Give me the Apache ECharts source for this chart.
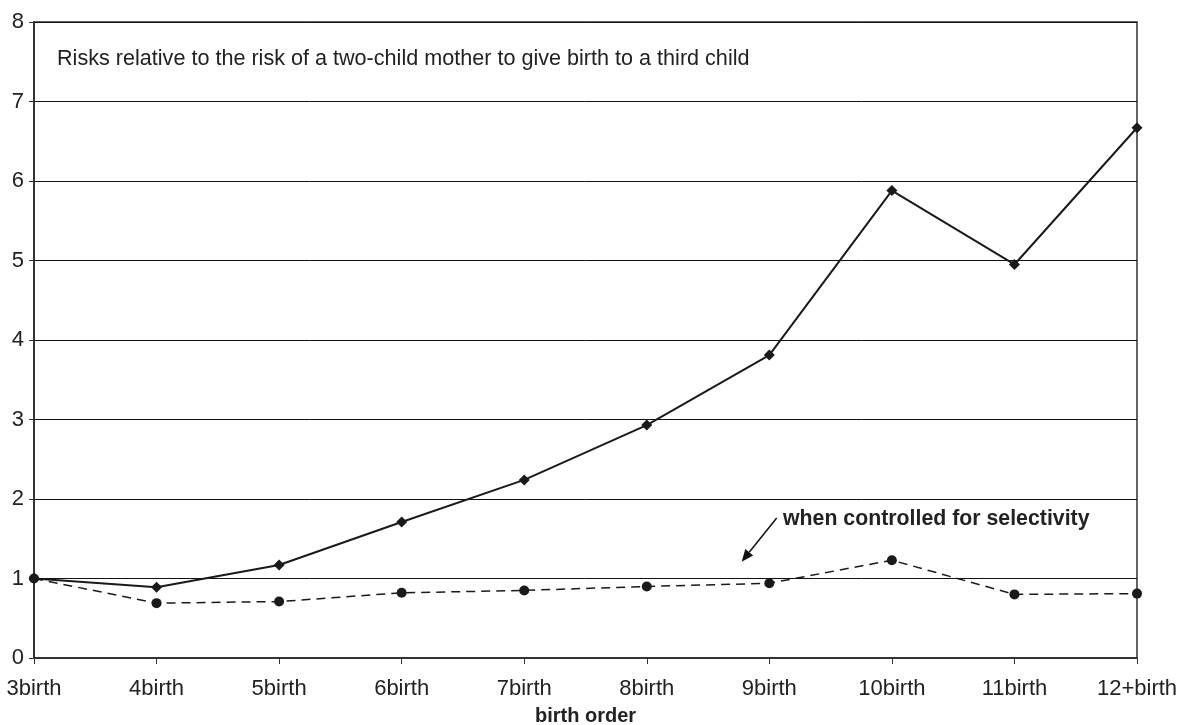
<!DOCTYPE html>
<html>
<head>
<meta charset="utf-8">
<script src="https://cdn.jsdelivr.net/npm/echarts@6/dist/echarts.min.js"></script>
<style>html,body{margin:0;padding:0;background:#fff}#c{width:1181px;height:725px}</style>
</head>
<body>
<div id="c"></div>
<script>
const categories = ['3birth','4birth','5birth','6birth','7birth','8birth','9birth','10birth','11birth','12+birth'];
const rawRisk = [1.0, 0.89, 1.17, 1.71, 2.24, 2.93, 3.81, 5.88, 4.95, 6.67];
const controlledRisk = [1.0, 0.69, 0.71, 0.82, 0.85, 0.90, 0.94, 1.23, 0.80, 0.81];
const yTicks = [0,1,2,3,4,5,6,7,8];
const noteText = 'Risks relative to the risk of a two-child mother to give birth to a third child';
const arrowText = 'when controlled for selectivity';
const xName = 'birth order';

const chart = echarts.init(document.getElementById('c'), null, {renderer:'canvas'});
const FONT = '"Liberation Sans", Arial, sans-serif';
const dark = '#222';
chart.setOption({
  animation: false,
  backgroundColor: '#fff',
  grid: {left: 34, right: 44, top: 22, bottom: 67, show: true, borderColor: '#333', borderWidth: 1.5,
         backgroundColor: 'transparent', containLabel: false, outerBoundsMode: 'none'},
  xAxis: {
    type: 'category', data: categories, boundaryGap: false,
    name: xName, nameLocation: 'middle', nameGap: 48,
    nameTextStyle: {fontFamily: FONT, fontWeight: 'bold', fontSize: 20, color: dark},
    axisLine: {lineStyle: {color: '#333', width: 2}},
    axisTick: {show: true, length: 6, lineStyle: {color: '#333', width: 1}},
    axisLabel: {fontFamily: FONT, fontSize: 22, color: dark, margin: 20},
    splitLine: {show: false}
  },
  yAxis: {
    type: 'value', min: 0, max: 8, interval: 1,
    axisLine: {show: true, lineStyle: {color: '#333', width: 2}},
    axisTick: {show: true, length: 5, lineStyle: {color: '#333', width: 1}},
    axisLabel: {fontFamily: FONT, fontSize: 22, color: dark, margin: 10},
    splitLine: {show: true, lineStyle: {color: '#111', width: 1}}
  },
  graphic: [
    {type: 'text', left: 57, top: 48, style: {text: noteText, font: '21.6px ' + FONT, fill: dark}},
    {type: 'text', left: 783, top: 509, style: {text: arrowText, font: 'bold 21.3px ' + FONT, fill: dark}},
    {type: 'line', shape: {x1: 776.7, y1: 518, x2: 749.2, y2: 552.3}, style: {stroke: '#111', lineWidth: 1.5}},
    {type: 'polygon', shape: {points: [[741.7,561.7],[753.2,555.5],[745.3,549.1]]}, style: {fill: '#111'}}
  ],
  series: [
    {
      type: 'line', data: rawRisk, symbol: 'diamond', symbolSize: 11,
      lineStyle: {color: '#1a1a1a', width: 2}, itemStyle: {color: '#1a1a1a'}, z: 3
    },
    {
      type: 'line', data: controlledRisk, symbol: 'circle', symbolSize: 10,
      lineStyle: {color: '#1a1a1a', width: 1.5, type: [9, 6]}, itemStyle: {color: '#1a1a1a'}, z: 4
    }
  ]
});
</script>
</body>
</html>
